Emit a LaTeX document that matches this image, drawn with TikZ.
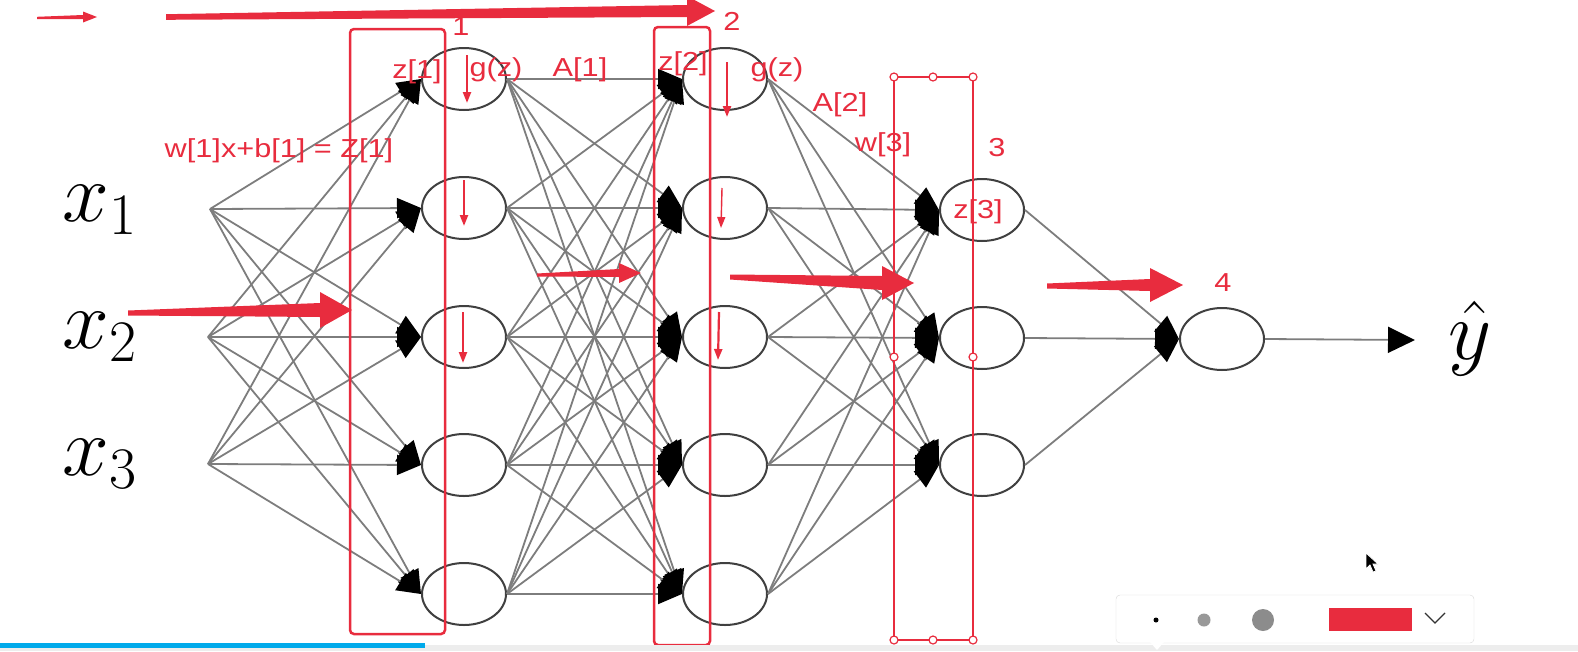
\RequirePackage{fix-cm}
\documentclass[tikz,border=0pt]{standalone}
\usepackage{fontspec}
\setmainfont{Liberation Sans}
\usetikzlibrary{arrows.meta, positioning, shapes.geometric, calc}
\usepackage{xcolor}

\definecolor{annored}{RGB}{232,44,62}
\definecolor{wiregray}{RGB}{125,125,125}
\definecolor{barblue}{RGB}{0,170,235}

% tapered pen arrow: start, tip, tail half, neck half, head length, head half
\newcommand{\fatarrow}[6]{%
  \fill[annored] ($(#1)+(0,#3)$) -- ($(#2)+(-#5,#4)$) -- ($(#2)+(-#5,#6)$) -- (#2)
    -- ($(#2)+(-#5,-#6)$) -- ($(#2)+(-#5,-#4)$) -- ($(#1)+(0,-#3)$) -- cycle;}

\begin{document}
\begin{tikzpicture}[
    x=1pt, y=-1pt,
    neuron/.style={
        ellipse, draw=black!75, fill=white, line width=2pt,
        minimum width=84pt, minimum height=62pt, inner sep=0pt
    },
    wire/.style={wiregray, line width=1.8pt, -{Triangle[length=24pt, width=20pt, color=black]}},
    inlbl/.style={font=\fontsize{84}{84}\selectfont, inner sep=0pt},
    lbl/.style={text=annored, font=\fontsize{26}{27}\selectfont, inner sep=0pt, xscale=1.18, transform shape},
    layerbox/.style={draw=annored, line width=2.5pt, rounded corners=4pt},
    selbox/.style={draw=annored, line width=2pt},
    handle/.style={draw=annored, fill=white, line width=1.2pt},
    pentick/.style={annored, line width=2.2pt, -{Triangle[length=11pt, width=8pt]}}
]
\useasboundingbox (0,0) rectangle (1578,651);

% === INPUTS ===

\node[inlbl] (x1) at (100,210) {$x_1$};
\node[inlbl] (x2) at (100,337) {$x_2$};
\node[inlbl] (x3) at (100,464) {$x_3$};
\coordinate (in1) at (210,209);
\coordinate (in2) at (208,337);
\coordinate (in3) at (208,464);

% === VRSTVY ===

\node[neuron] (h11) at (464,79) {};
\node[neuron] (h12) at (464,208) {};
\node[neuron] (h13) at (464,337) {};
\node[neuron] (h14) at (464,465) {};
\node[neuron] (h15) at (464,594) {};

\node[neuron] (h21) at (725,79) {};
\node[neuron] (h22) at (725,208) {};
\node[neuron] (h23) at (725,337) {};
\node[neuron] (h24) at (725,465) {};
\node[neuron] (h25) at (725,594) {};

\node[neuron] (h31) at (982,210) {};
\node[neuron] (h32) at (982,338) {};
\node[neuron] (h33) at (982,465) {};

\node[neuron] (h41) at (1222,339) {};
\coordinate (out) at (1415,340);
\node[inlbl] (yhat) at (1470,338) {$\hat{y}$};

% === SPOJE ===

\foreach \i in {1,2,3} \foreach \j in {1,...,5}
    \draw[wire] (in\i) -- (h1\j.west);
\foreach \i in {1,...,5} \foreach \j in {1,...,5}
    \draw[wire] (h1\i.east) -- (h2\j.west);
\foreach \i in {1,...,5} \foreach \j in {1,2,3}
    \draw[wire] (h2\i.east) -- (h3\j.west);
\foreach \i in {1,2,3}
    \draw[wire] (h3\i.east) -- (h41.west);
\draw[wiregray, line width=1.8pt, -{Triangle[length=27pt, width=26pt, color=black]}] (h41.east) -- (out);

% === ANOTACE ===

\draw[layerbox] (350,29) rectangle (445,634);
\draw[layerbox] (654,27) rectangle (710,645);
\draw[selbox] (894,77) rectangle (973,640);
\foreach \p in {(894,77),(933,77),(973,77),(894,357),(973,357),(894,640),(933,640),(973,640)}
    \draw[handle] \p circle (4pt);

\node[lbl] (n1) at (461,27) {1};
\node[lbl] (n2) at (732,21) {2};
\node[lbl] (n3) at (997,148) {3};
\node[lbl] (n4) at (1223,283) {4};
\node[lbl] (z1) at (417,72) {z[1]};
\node[lbl] (g1) at (496,70) {g(z)};
\node[lbl] (a1) at (580,70) {A[1]};
\node[lbl] (z2) at (683,64) {z[2]};
\node[lbl] (g2) at (777,70) {g(z)};
\node[lbl] (a2) at (840,105) {A[2]};
\node[lbl] (w3) at (883,145) {w[3]};
\node[lbl] (z3) at (978,212) {z[3]};
\node[lbl] (eq1) at (279,151) {w[1]x+b[1] = Z[1]};

% tahy perem
\coordinate (p0s) at (37,18);   \coordinate (p0e) at (97,17);
\coordinate (p1s) at (166,17);  \coordinate (p1e) at (715,11);
\coordinate (p2s) at (128,313); \coordinate (p2e) at (352,310);
\coordinate (p3s) at (537,275); \coordinate (p3e) at (641,273);
\coordinate (p4s) at (730,277); \coordinate (p4e) at (914,283);
\coordinate (p5s) at (1047,286); \coordinate (p5e) at (1183,285);
\fatarrow{p0s}{p0e}{1.2}{2}{14}{5.5}
\fatarrow{p1s}{p1e}{2.8}{6}{28}{15}
\fatarrow{p2s}{p2e}{2.5}{7}{32}{18}
\fatarrow{p3s}{p3e}{1.5}{4}{22}{10}
\fatarrow{p4s}{p4e}{2.5}{7}{32}{17}
\fatarrow{p5s}{p5e}{2.5}{6}{33}{17}

\draw[pentick] (467,55) -- (467,103);
\draw[pentick] (464,180) -- (464,226);
\draw[pentick] (463,312) -- (463,363);
\draw[pentick] (727,62) -- (727,117);
\draw[pentick, line width=1.4pt] (722,188) -- (721,228);
\draw[pentick] (719,312) -- (718,360);

% === LISTA ===

\fill[black!7] (0,645) rectangle (1578,651);
\fill[barblue] (0,643) rectangle (425,648);
\draw[black!15, fill=white, rounded corners=4pt] (1116,595) rectangle (1474,643);
\fill[white] (1150,642) -- (1157,650) -- (1164,642) -- cycle;
\fill[black] (1156,620) circle (2.5pt);
\fill[black!40] (1204,620) circle (6.5pt);
\fill[black!45] (1263,620) circle (11pt);
\fill[annored] (1329,608) rectangle (1412,631);
\draw[black!80, line width=1.3pt] (1425,613) -- (1435,623) -- (1445,613);
\draw[white, fill=black, line width=0.8pt] (1366,553) -- (1366,569) -- (1370,565) -- (1373,572)
    -- (1376,571) -- (1373,564) -- (1378,564) -- cycle;

\end{tikzpicture}
\end{document}
